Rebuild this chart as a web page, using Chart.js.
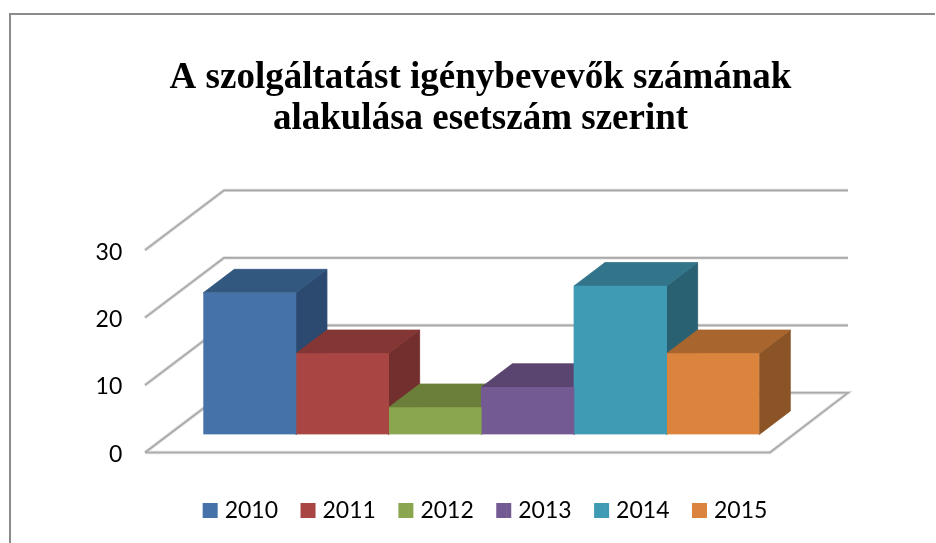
<!DOCTYPE html>
<html><head><meta charset="utf-8">
<style>
html,body{margin:0;padding:0;background:#fff;width:936px;height:543px;overflow:hidden}
#frame{position:absolute;left:9px;top:13px;width:926px;height:540px;border-top:2px solid #8c8c8c;border-left:2px solid #8c8c8c;box-sizing:border-box}
#wrap{position:absolute;left:0;top:0;width:936px;height:543px;filter:blur(0.5px)}
</style>
<script src="https://cdn.jsdelivr.net/npm/chart.js@4"></script>
</head><body>
<div id="frame"></div>
<div id="wrap"><canvas id="c" width="936" height="543"></canvas></div>
<script>
const titleLines = ['A szolgáltatást igénybevevők számának', 'alakulása esetszám szerint'];
const categories = ['Esetszám'];
const seriesNames = ['2010', '2011', '2012', '2013', '2014', '2015'];
const seriesValues = [21, 12, 4, 7, 22, 12];
const tickValues = [0, 10, 20, 30];
const frontColors = ['#4573a9', '#a94643', '#8aa64e', '#745a92', '#3f9bb3', '#db843d'];
const topColors = ['#335880', '#833634', '#6b7f3b', '#5a4570', '#32758a', '#a8652d'];
const sideColors = ['#2c4a70', '#722f2e', '#5a6b32', '#4b3a5f', '#2a6172', '#8a5426'];

const depthX = 31, depthY = 23.5;

const scene = {
  id: 'scene',
  afterLayout(chart) {
    chart.titleBlock.right -= 9;
  },
  beforeDatasetsDraw(chart) {
    const {ctx, chartArea: a, scales: {y}} = chart;
    const fl = a.left - 58.3, bl = a.left + 20.7, br = a.right + 88.7, fr = a.right + 10.7;
    const line = (pts, col, w) => {
      ctx.beginPath();
      pts.forEach((p, i) => i ? ctx.lineTo(p[0], p[1]) : ctx.moveTo(p[0], p[1]));
      ctx.strokeStyle = col; ctx.lineWidth = w; ctx.stroke();
    };
    ctx.save();
    ctx.lineJoin = 'miter';
    y.ticks.forEach(t => {
      const py = y.getPixelForValue(t.value);
      const pts = [[fl, py + 18], [bl, py - 41.7], [br, py - 41.7]];
      if (t.value === 0) pts.push([fr, py + 18], [fl, py + 18]);
      line(pts, '#dcdcdc', 3.4);
    });
    y.ticks.forEach(t => {
      const py = y.getPixelForValue(t.value);
      const pts = [[fl, py + 18], [bl, py - 41.7], [br, py - 41.7]];
      if (t.value === 0) pts.push([fr, py + 18], [fl, py + 18]);
      line(pts, '#a9a9a9', 1.6);
    });
    seriesValues.forEach((v, i) => {
      const bar = chart.getDatasetMeta(i).data[0];
      const x0 = bar.x - bar.width / 2, x1 = bar.x + bar.width / 2;
      const t = bar.y, b = bar.base;
      ctx.lineWidth = 0.8;
      ctx.fillStyle = ctx.strokeStyle = sideColors[i];
      ctx.beginPath();
      ctx.moveTo(x1, t); ctx.lineTo(x1 + depthX, t - depthY);
      ctx.lineTo(x1 + depthX, b - depthY); ctx.lineTo(x1, b);
      ctx.closePath(); ctx.fill(); ctx.stroke();
      ctx.fillStyle = ctx.strokeStyle = topColors[i];
      ctx.beginPath();
      ctx.moveTo(x0, t); ctx.lineTo(x0 + depthX, t - depthY);
      ctx.lineTo(x1 + depthX, t - depthY); ctx.lineTo(x1, t);
      ctx.closePath(); ctx.fill(); ctx.stroke();
    });
    ctx.restore();
  },
  afterDraw(chart) {
    const {ctx, legend} = chart;
    ctx.save();
    legend.legendHitBoxes.forEach((h, i) => {
      ctx.fillStyle = frontColors[i];
      ctx.fillRect(h.left + 10, h.top + (h.height - 15) / 2, 5, 15);
    });
    ctx.restore();
  }
};

new Chart(document.getElementById('c'), {
  type: 'bar',
  data: {
    labels: categories,
    datasets: seriesNames.map((name, i) => ({
      label: name,
      data: [seriesValues[i]],
      backgroundColor: frontColors[i],
      borderWidth: 0,
      barPercentage: 1,
      categoryPercentage: 1
    }))
  },
  plugins: [scene],
  options: {
    responsive: false,
    animation: false,
    layout: {padding: {left: 34, right: 0, top: 0, bottom: 11}},
    plugins: {
      tooltip: {enabled: false},
      title: {
        display: true,
        text: titleLines,
        color: '#000',
        font: {family: '"Liberation Serif"', size: 37, weight: 'bold', lineHeight: 1.1},
        padding: {top: 58, bottom: 92.7}
      },
      legend: {
        position: 'bottom',
        onClick: null,
        labels: {
          boxWidth: 10.5,
          boxHeight: 15,
          padding: 22.5,
          color: '#000',
          font: {family: 'Lato', size: 23}
        }
      }
    },
    scales: {
      x: {
        display: true,
        grid: {display: false, drawTicks: false},
        border: {display: false},
        ticks: {display: false},
        afterFit: s => { s.height = 42; }
      },
      y: {
        min: 0, max: 30,
        grid: {display: false, drawTicks: false},
        border: {display: false},
        afterFit: s => { s.width = 169.3; },
        afterBuildTicks: s => { s.ticks = tickValues.map(v => ({value: v})); },
        ticks: {
          padding: 81,
          labelOffset: 20,
          color: '#000',
          font: {family: 'Lato', size: 23}
        }
      },
      spacer: {
        position: 'right',
        display: true,
        grid: {display: false, drawTicks: false},
        border: {display: false},
        ticks: {display: false},
        afterFit: s => { s.width = 176.7; }
      }
    }
  }
});
</script>
</body></html>
